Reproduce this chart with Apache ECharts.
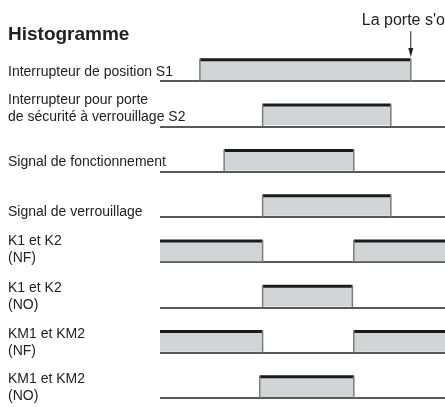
<!DOCTYPE html>
<html>
<head>
<meta charset="utf-8">
<script src="https://cdn.jsdelivr.net/npm/echarts@6/dist/echarts.min.js"></script>
<style>
  html, body { margin: 0; padding: 0; background: #fff; }
  #chart { width: 445px; height: 407px; }
</style>
</head>
<body>
<div id="chart"></div>
<script>
// signal names, one per row (top to bottom)
const rowLabels = [
  'Interrupteur de position S1',
  'Interrupteur pour porte\nde sécurité à verrouillage S2',
  'Signal de fonctionnement',
  'Signal de verrouillage',
  'K1 et K2\n(NF)',
  'K1 et K2\n(NO)',
  'KM1 et KM2\n(NF)',
  'KM1 et KM2\n(NO)'
];

// each pulse: row, switch-on time, switch-off time (time 0..100)
const pulseRow = [0, 1, 2, 3, 4, 4, 5, 6, 6, 7];
const pulseOn  = [14, 36, 22.5, 36, 0, 68, 36, 0, 68, 35];
const pulseOff = [88, 81, 68, 81, 36, 100, 67.5, 36, 100, 68];

// note above row 0
const noteTime = [88];
const noteText = ["La porte s'ouvre"];

// layout: how far each row name sits below its base line (px)
const labelShift = [-0.5, -0.5, -0.5, 3.5, 4.5, 5.8, 7, 7];

const T_MIN = 0, T_MAX = 100;
const BAR_H = 0.49; // height of a high level, in rows
const FONT = '"Liberation Sans", Arial, sans-serif';

var chart = echarts.init(document.getElementById('chart'));

var pulses = pulseRow.map(function (r, i) {
  return [pulseOn[i], pulseOff[i], r];
});

function renderPulse(params, api) {
  var row = api.value(2);
  var a = api.coord([api.value(0), row]);
  var b = api.coord([api.value(1), row]);
  var h = api.size([0, BAR_H])[1];
  var top = a[1] - h;
  var kids = [
    { type: 'rect', shape: { x: a[0], y: top, width: b[0] - a[0], height: h - 1 },
      style: { fill: '#d3d4d6' } },
    { type: 'line', shape: { x1: a[0], y1: top + 1, x2: b[0], y2: top + 1 },
      style: { stroke: '#1b1b1b', lineWidth: 3 } }
  ];
  if (api.value(0) > T_MIN) {
    kids.push({ type: 'line', shape: { x1: a[0], y1: top, x2: a[0], y2: a[1] },
      style: { stroke: '#7d7d7d', lineWidth: 1.5 } });
  }
  if (api.value(1) < T_MAX) {
    kids.push({ type: 'line', shape: { x1: b[0], y1: top, x2: b[0], y2: a[1] },
      style: { stroke: '#7d7d7d', lineWidth: 1.5 } });
  }
  return { type: 'group', children: kids };
}

function renderLabel(params, api) {
  var row = api.value(1);
  var p = api.coord([api.value(0), row]);
  return {
    type: 'text',
    x: p[0] - 152,
    y: p[1] + labelShift[row],
    style: { text: rowLabels[row], font: '14px ' + FONT, fill: '#222',
             lineHeight: 17, align: 'left', verticalAlign: 'bottom' }
  };
}

function renderNote(params, api) {
  var p0 = api.coord([api.value(0), -1.1]);
  var p1 = api.coord([api.value(0), -0.53]);
  return {
    type: 'group',
    children: [
      { type: 'line', shape: { x1: p0[0], y1: p0[1], x2: p1[0], y2: p1[1] - 6 },
        style: { stroke: '#222', lineWidth: 1 } },
      { type: 'polygon', shape: { points: [[p1[0] - 2.5, p1[1] - 9], [p1[0] + 2.5, p1[1] - 9], [p1[0], p1[1]]] },
        style: { fill: '#222' } },
      { type: 'text', x: p0[0] - 49, y: p0[1] - 3,
        style: { text: noteText[params.dataIndex], font: '16px ' + FONT, fill: '#222',
                 align: 'left', verticalAlign: 'bottom' } }
    ]
  };
}

var option = {
  animation: false,
  title: {
    text: 'Histogramme',
    left: 8,
    top: 25,
    padding: 0,
    textStyle: { fontFamily: FONT, fontSize: 19, fontWeight: 'bold', color: '#222' }
  },
  grid: { left: 160, right: 0, top: 81, bottom: 9 },
  xAxis: {
    type: 'value', min: T_MIN, max: T_MAX, show: false
  },
  yAxis: {
    type: 'value', min: 0, max: 7, interval: 1, inverse: true,
    axisLine: { show: false },
    axisTick: { show: false },
    axisLabel: { show: false },
    splitLine: { show: true, lineStyle: { color: '#222', width: 1.5 } }
  },
  series: [
    {
      name: 'signaux', type: 'custom', renderItem: renderPulse,
      encode: { x: [0, 1], y: 2 }, data: pulses, silent: true
    },
    {
      name: 'noms', type: 'custom', renderItem: renderLabel,
      encode: { x: 0, y: 1 }, data: rowLabels.map(function (_, i) { return [T_MIN, i]; }), silent: true
    },
    {
      name: 'note', type: 'custom', renderItem: renderNote,
      encode: { x: 0 }, data: noteTime.map(function (t) { return [t]; }), silent: true
    }
  ]
};

chart.setOption(option);
</script>
</body>
</html>
